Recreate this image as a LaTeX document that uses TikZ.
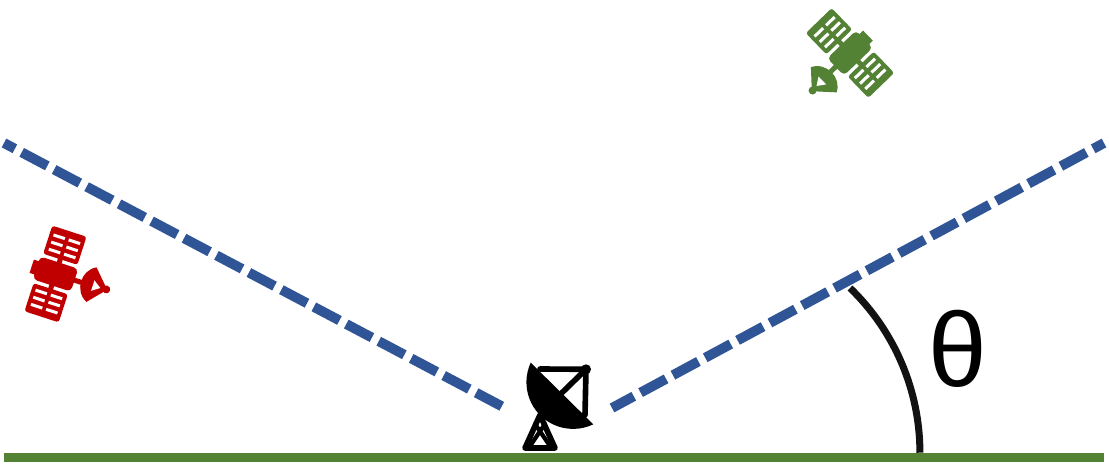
\documentclass[tikz,border=0pt]{standalone}
\usepackage{fontspec}
\setmainfont{Liberation Sans}
\definecolor{skyblue}{RGB}{47,85,151}
\definecolor{groundgreen}{RGB}{84,130,53}
\definecolor{satred}{RGB}{192,0,0}
\tikzset{
  horizon/.style={draw=skyblue,line width=5.6pt,dash pattern=on 16.5pt off 4.4pt,dash phase=9.5pt},
  ground/.style={draw=groundgreen,line width=5.3pt},
  anglearc/.style={draw=black!93,line width=4pt},
  dishline/.style={draw=black,line width=3.2pt,line cap=round,line join=round},
  pics/satellite/.style={code={
    % panels
    \foreach \s in {-1,1}{
      \fill[#1,rounded corners=1.5pt] (-18,{\s*15.5}) rectangle (18,{\s*45});
      \foreach \vpos in {20,27.5,35}{
        \foreach \upos in {-14,2}{
          \fill[white] (\upos,{\s*\vpos}) rectangle ({\upos+12},{\s*(\vpos+3)});
        }
      }
      \fill[#1] (-2.5,{\s*10}) rectangle (2.5,{\s*17});
    }
    % body
    \fill[#1,rounded corners=2.5pt] (-20,-12) rectangle (20,12);
    \fill[#1] (-25,-7) rectangle (-18,7);
    \fill[#1] (18,-2.5) rectangle (29,2.5);
    % dish
    \fill[#1] (37,-19) .. controls (23,-12) and (23,10) .. (38,17) -- (54,-1) -- cycle;
    \fill[white] (39,-6) -- (39,5) -- (47,-0.5) -- cycle;
    \fill[#1] (53,-1) circle[radius=4];
  }}
}
\begin{document}
\begin{tikzpicture}[x=0.02cm,y=-0.02cm]
  \useasboundingbox (0,0) rectangle (1109,469);
  % ground
  \coordinate (groundleft) at (4,457.5);
  \coordinate (groundright) at (1104,457.5);
  \draw[ground] (groundleft) -- (groundright);
  % horizon lines
  \coordinate (leftfar) at (4,143);
  \coordinate (leftnear) at (505,408);
  \coordinate (rightnear) at (612,408);
  \coordinate (rightfar) at (1104,143);
  \draw[horizon] (leftfar) -- (leftnear);
  \draw[horizon] (rightfar) -- (rightnear);
  % elevation angle
  \draw[anglearc] (850,288) arc[start angle=-46,end angle=0,radius=229];
  \node (theta) at (958,349) {\fontsize{60}{60}\selectfont θ};
  % satellites
  \pic (satgreen) [rotate=224] at (850,53) {satellite=groundgreen};
  \pic (satred) [rotate=-18] at (55.5,274) {satellite=satred};
  % ground station
  \fill[black] (530.7,362.7) arc[start angle=204.7,end angle=64.4,radius=46.7] -- cycle;
  \coordinate (dishtip) at (586,369.3);
  \draw[dishline] (540,369) -- (dishtip) -- (585,415);
  \draw[dishline] (dishtip) -- (561.7,393);
  \fill[black] (dishtip) circle[radius=5];
  \draw[dishline] (540,415) -- (525,448) -- (555,448) -- cycle;
  \draw[dishline,line width=2.4pt] (535,424) -- (550,446);
  \draw[dishline,line width=2.4pt] (545,424) -- (530,446);
\end{tikzpicture}
\end{document}
